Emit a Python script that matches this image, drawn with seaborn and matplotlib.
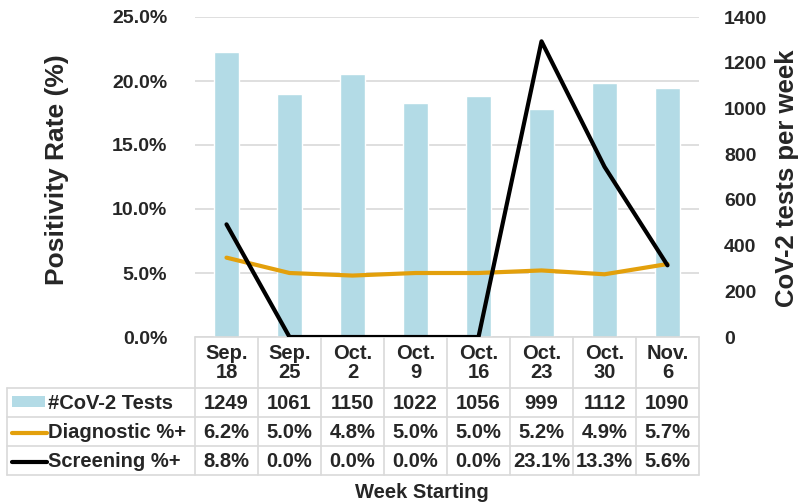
import numpy as np
import pandas as pd
import matplotlib.pyplot as plt
from matplotlib.ticker import MultipleLocator, FuncFormatter
import seaborn as sns

weeks = ['Sep.\n18', 'Sep.\n25', 'Oct.\n2', 'Oct.\n9', 'Oct.\n16', 'Oct.\n23', 'Oct.\n30', 'Nov.\n6']
tests = [1249, 1061, 1150, 1022, 1056, 999, 1112, 1090]
diagnostic = [6.2, 5.0, 4.8, 5.0, 5.0, 5.2, 4.9, 5.7]
screening = [8.8, 0.0, 0.0, 0.0, 0.0, 23.1, 13.3, 5.6]
row_names = ['#CoV-2 Tests', 'Diagnostic %+', 'Screening %+']

bar_col = '#b3dbe6'
diag_col = '#e3a00c'
scr_col = 'black'
grid_col = '#d9d9d9'

df = pd.DataFrame({'idx': np.arange(len(weeks)), 'tests': tests,
                   'diag': np.array(diagnostic) / 100, 'scr': np.array(screening) / 100})

sns.set_style('white')
plt.rcParams['font.family'] = ['Liberation Sans', 'DejaVu Sans']
plt.rcParams['font.weight'] = 'bold'

W, H = 799, 504
fig = plt.figure(figsize=(W / 100, H / 100), dpi=100)

# plot area in pixels
x0, x1, y0, y1 = 195, 699, 17, 337
ax = fig.add_axes([x0 / W, 1 - y1 / H, (x1 - x0) / W, (y1 - y0) / H])
ax2 = ax.twinx()

# bars on right axis, drawn behind the lines
sns.barplot(data=df, x='idx', y='tests', color=bar_col, width=0.4, saturation=1, ax=ax2, zorder=2)
ax2.set_ylim(0, 1400)
ax2.yaxis.set_major_locator(MultipleLocator(200))
ax2.yaxis.set_minor_locator(MultipleLocator(1400 / 5))
ax2.yaxis.remove_overlapping_locs = False
ax2.set_axisbelow(True)
ax2.grid(axis='y', which='minor', color=grid_col, lw=1.2)
ax2.grid(axis='y', which='major', visible=False)
ax2.tick_params(axis='y', which='both', length=0, pad=18, labelsize=14)
ax2.set_ylabel('')

# lines on left axis
sns.lineplot(data=df, x='idx', y='diag', color=diag_col, lw=3, ax=ax)
sns.lineplot(data=df, x='idx', y='scr', color=scr_col, lw=3, ax=ax)
ax.set_zorder(ax2.get_zorder() + 1)
ax.patch.set_visible(False)
ax.set_ylim(0, 0.25)
ax.yaxis.set_major_locator(MultipleLocator(0.05))
ax.yaxis.set_major_formatter(FuncFormatter(lambda v, p: f'{v:.1%}'))
ax.tick_params(axis='y', length=0, pad=20, labelsize=14)
ax.set_xlim(-0.5, len(weeks) - 0.5)
ax.set_xticks([])
ax2.set_xticks([])
ax.set_xlabel('')
ax.set_ylabel('')
for a in (ax, ax2):
    for s in a.spines.values():
        s.set_visible(False)

fig.text(57 / W, 1 - 170 / H, 'Positivity Rate (%)', rotation=90, ha='center', va='center', fontsize=19)
fig.text(787 / W, 1 - 178 / H, 'CoV-2 tests per week', rotation=90, ha='center', va='center', fontsize=18.5)

# data table underneath, drawn in pixel coordinates
tax = fig.add_axes([0, 0, 1, 1], zorder=0)
tax.set_xlim(0, W)
tax.set_ylim(H, 0)
tax.axis('off')

col_w = (x1 - x0) / len(weeks)
row_top = [388, 417, 446]
row_h = 29
lab_x0 = 7
lw_t = 1.2

# header cells
tax.plot([x0, x1], [y1, y1], color=grid_col, lw=lw_t)
for i in range(len(weeks) + 1):
    tax.plot([x0 + i * col_w] * 2, [y1, row_top[-1] + row_h], color=grid_col, lw=lw_t)
for i, w in enumerate(weeks):
    tax.text(x0 + (i + 0.5) * col_w, 363, w, ha='center', va='center', fontsize=14.5, linespacing=1.05)

# body rows
for r in range(len(row_top) + 1):
    yy = row_top[0] + r * row_h
    tax.plot([lab_x0, x1], [yy, yy], color=grid_col, lw=lw_t)
tax.plot([lab_x0, lab_x0], [row_top[0], row_top[-1] + row_h], color=grid_col, lw=lw_t)

rows = [[str(v) for v in tests],
        [f'{v:.1f}%' for v in diagnostic],
        [f'{v:.1f}%' for v in screening]]
for r, vals in enumerate(rows):
    cy = row_top[r] + row_h / 2 + 1
    for i, v in enumerate(vals):
        tax.text(x0 + (i + 0.5) * col_w, cy, v, ha='center', va='center', fontsize=14.5)
    tax.text(48, cy, row_names[r], ha='left', va='center', fontsize=14.5)

# legend keys in the table
tax.add_patch(plt.Rectangle((12, 396), 33, 11, color=bar_col, lw=0))
tax.plot([12, 47], [row_top[1] + row_h / 2 + 1] * 2, color=diag_col, lw=3)
tax.plot([12, 47], [row_top[2] + row_h / 2 + 1] * 2, color=scr_col, lw=3)

fig.text(422 / W, 1 - 492 / H, 'Week Starting', ha='center', va='center', fontsize=14.5)

fig.savefig('out.png', dpi=100)
